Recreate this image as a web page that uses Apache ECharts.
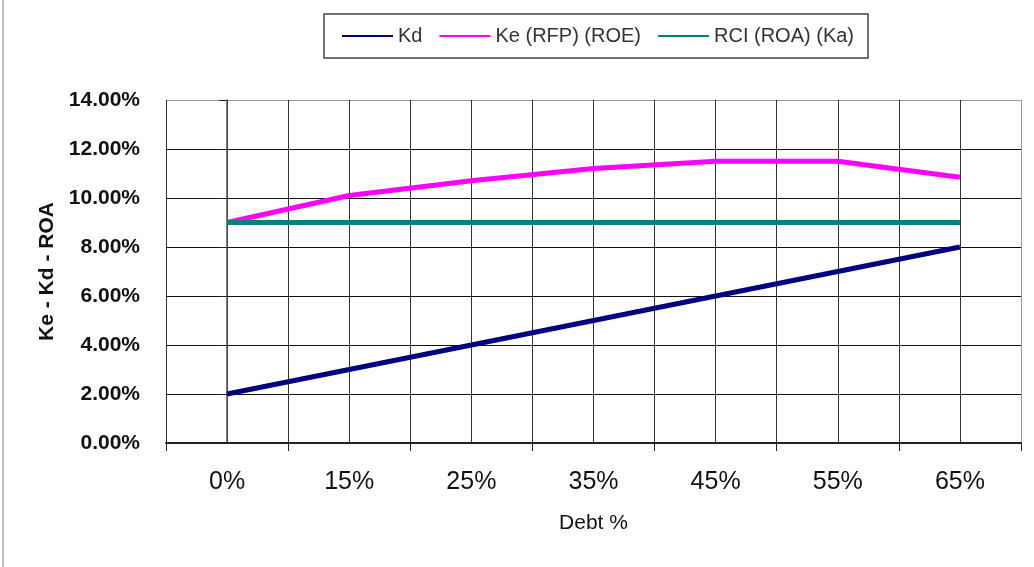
<!DOCTYPE html>
<html>
<head>
<meta charset="utf-8">
<title>Ke - Kd - ROA vs Debt %</title>
<script src="https://cdn.jsdelivr.net/npm/echarts@6/dist/echarts.min.js"></script>
<style>
  html, body { margin: 0; padding: 0; background: #fff; }
  #chart { width: 1034px; height: 567px; }
</style>
</head>
<body>
<div id="chart"></div>
<script>
// Debt ratio categories
const categories = ['0%', '15%', '25%', '35%', '45%', '55%', '65%'];
// Cost of debt
const kdValues = [0.02, 0.03, 0.04, 0.05, 0.06, 0.07, 0.08];
// Cost of equity (return on equity)
const keValues = [0.09, 0.101, 0.107, 0.112, 0.115, 0.115, 0.1085];
// Return on assets (weighted cost of capital)
const rciValues = [0.09, 0.09, 0.09, 0.09, 0.09, 0.09, 0.09];

const seriesNames = ['Kd', 'Ke (RFP) (ROE)', 'RCI (ROA) (Ka)'];
const seriesColors = ['#000080', '#ff00ff', '#008080'];

const FONT = "'Liberation Sans', Arial, sans-serif";

const chart = echarts.init(document.getElementById('chart'), null, { renderer: 'canvas' });

// Half-category grid: one line per category boundary and centre
const vLineColors = [];
for (let i = 0; i <= 14; i++) vLineColors.push(i === 14 ? '#999' : '#333');
const hLineColors = ['#111', '#111', '#111', '#111', '#111', '#111', '#111', '#999'];

chart.setOption({
  animation: false,
  backgroundColor: '#fff',
  textStyle: { fontFamily: FONT },
  graphic: [
    { type: 'line', shape: { x1: 3, y1: 0, x2: 3, y2: 567 }, style: { stroke: '#aaa', lineWidth: 1.5 }, silent: true }
  ],
  legend: {
    left: 324,
    top: 14,
    padding: [12, 14, 12, 18],
    itemGap: 17,
    itemWidth: 51,
    itemHeight: 2,
    icon: 'rect',
    borderColor: '#444',
    borderWidth: 1.5,
    textStyle: { fontFamily: FONT, fontSize: 20, color: '#333' },
    data: seriesNames
  },
  grid: { left: 166, right: 13, top: 100, bottom: 124, containLabel: false },
  xAxis: [
    {
      type: 'category',
      data: categories,
      boundaryGap: true,
      axisLine: { show: true, lineStyle: { color: '#222', width: 2 } },
      axisTick: { show: true, inside: false, length: 8, lineStyle: { color: '#222', width: 1 } },
      axisLabel: { fontFamily: FONT, fontSize: 25, color: '#111', margin: 27 },
      splitLine: { show: false },
      name: 'Debt %',
      nameLocation: 'middle',
      nameGap: 70,
      nameTextStyle: { fontFamily: FONT, fontSize: 21, color: '#111' },
      z: 5
    },
    {
      type: 'value',
      min: -0.5,
      max: 6.5,
      interval: 0.5,
      position: 'bottom',
      axisLine: { show: false },
      axisTick: { show: false },
      axisLabel: { show: false },
      splitLine: { show: true, lineStyle: { color: vLineColors, width: 1 } }
    }
  ],
  yAxis: {
    type: 'value',
    min: 0,
    max: 0.14,
    interval: 0.02,
    axisLine: { show: true, lineStyle: { color: '#555', width: 1.5 } },
    axisTick: { show: true, inside: false, length: 8, lineStyle: { color: '#222', width: 1 } },
    axisLabel: {
      fontFamily: FONT, fontSize: 21, fontWeight: 'bold', color: '#111', margin: 26,
      formatter: v => (v * 100).toFixed(2) + '%'
    },
    splitLine: { show: true, lineStyle: { color: hLineColors, width: 1 } },
    name: 'Ke - Kd - ROA',
    nameLocation: 'middle',
    nameGap: 107,
    nameTextStyle: { fontFamily: FONT, fontSize: 21, fontWeight: 'bold', color: '#111' }
  },
  series: [
    {
      name: seriesNames[0], type: 'line', data: kdValues, xAxisIndex: 0,
      showSymbol: false, symbol: 'none',
      lineStyle: { color: seriesColors[0], width: 5 }, itemStyle: { color: seriesColors[0] }, z: 3
    },
    {
      name: seriesNames[1], type: 'line', data: keValues, xAxisIndex: 0,
      showSymbol: false, symbol: 'none',
      lineStyle: { color: seriesColors[1], width: 5 }, itemStyle: { color: seriesColors[1] }, z: 3
    },
    {
      name: seriesNames[2], type: 'line', data: rciValues, xAxisIndex: 0,
      showSymbol: false, symbol: 'none',
      lineStyle: { color: seriesColors[2], width: 5 }, itemStyle: { color: seriesColors[2] }, z: 4
    }
  ]
});
</script>
</body>
</html>
